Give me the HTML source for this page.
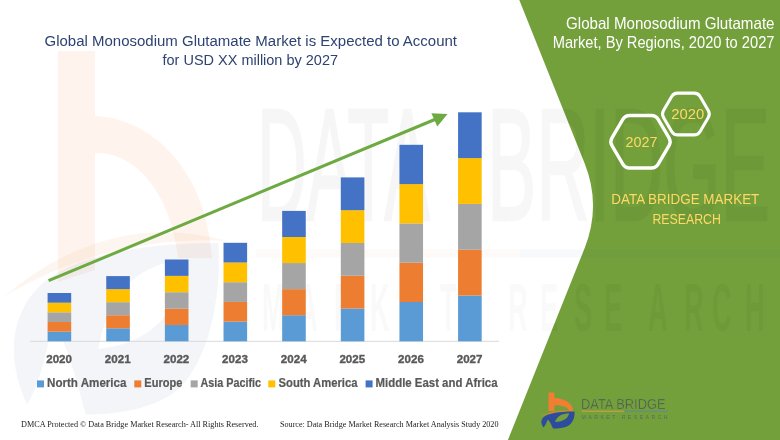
<!DOCTYPE html>
<html><head><meta charset="utf-8">
<style>
html,body{margin:0;padding:0;background:#fff;}
body{width:780px;height:440px;overflow:hidden;position:relative;}
svg{position:absolute;left:0;top:0;display:block;will-change:transform;}
text{font-family:"Liberation Sans",sans-serif;}
.serif{font-family:"Liberation Serif",serif;}
</style></head><body>
<svg width="780" height="440" viewBox="0 0 780 440">
<defs>
<g id="lb">
<path d="M0,0 L6,0 L6,5.5 A18.5,13 0 0 1 24.5,18.5 L20.5,18.5 A14.5,6 0 0 0 6,12.5 L6,18.5 L0,18.5 Z" fill="#F07F32"/>
<path d="M-8.7,24.3 Q8,15.6 27.6,18.8 Q8,18.2 -8.7,24.3 Z" fill="#F07F32"/>
</g>
<g id="ld">
<path d="M-5,35 C-8.5,30.5 -8,25.5 -1.5,22.5 C4.5,20 14.5,19 26,19 C26.5,24.5 24.5,30.5 19.5,33.5 C15.5,35.5 9.5,36 4.5,36 C3,32.5 1.5,29 -0.7,27 C-2,29.5 -2.5,32.5 -5,35 Z M6.5,29.5 C8.5,23.5 13.5,21 20.5,20.7 C20,25.5 15.5,29 6.5,29.5 Z" fill="#2E4C9C" fill-rule="evenodd"/>
</g>
<clipPath id="cw"><path d="M0,0 L519.3,0 L584.5,163 Q601.6,205.75 584.5,248.5 L507.9,440 L0,440 Z"/></clipPath>
<clipPath id="cg"><path d="M519.3,0 L584.5,163 Q601.6,205.75 584.5,248.5 L507.9,440 L780,440 L780,0 Z"/></clipPath>
</defs>
<rect x="0" y="0" width="780" height="440" fill="#ffffff"/>
<!-- green background -->
<path d="M519.3,0 L584.5,163 Q601.6,205.75 584.5,248.5 L507.9,440 L780,440 L780,0 Z" fill="#73A03B"/>
<!-- watermarks -->
<path d="M58,51 L95,51 L95,116 C150,118 206,168 212,258 L178,258 C172,200 140,152 95,153 L95,270 L58,282 Z" fill="#F07F32" opacity="0.085"/>
<g opacity="0.07"><path transform="translate(58,51) scale(6.17,10.1)" d="M-8.7,24.3 Q8,15.6 27.6,18.8 Q8,18.2 -8.7,24.3 Z" fill="#F07F32"/></g>
<g opacity="0.05">
<use href="#ld" transform="translate(58,51) scale(6.17,10.1)"/>
</g>
<defs><g id="wm1">
<text x="257" y="220" textLength="173" lengthAdjust="spacingAndGlyphs">DATA</text>
<text x="487" y="220" textLength="283" lengthAdjust="spacingAndGlyphs">BRIDGE</text>
</g><g id="wm2" transform="scale(0.4,1)"><text x="655.0" y="331">M</text><text x="745.0" y="331">A</text><text x="835.0" y="331">R</text><text x="925.0" y="331">K</text><text x="1015.0" y="331">E</text><text x="1100.0" y="331">T</text><text x="1270.0" y="331">R</text><text x="1350.0" y="331">E</text><text x="1435.0" y="331">S</text><text x="1510.0" y="331">E</text><text x="1620.0" y="331">A</text><text x="1710.0" y="331">R</text><text x="1780.0" y="331">C</text><text x="1862.5" y="331">H</text></g></defs>
<g clip-path="url(#cw)"><g fill="#000" stroke="#000" stroke-width="2.5" opacity="0.03" font-size="160"><use href="#wm1"/></g>
<g fill="#000" opacity="0.02" font-size="68" font-weight="bold"><use href="#wm2"/></g></g>
<g clip-path="url(#cg)"><g fill="#000" stroke="#000" stroke-width="2.5" opacity="0.045" font-size="160"><use href="#wm1"/></g>
<g fill="#000" opacity="0.035" font-size="68" font-weight="bold"><use href="#wm2"/></g></g>

<rect x="256" y="249.5" width="264" height="8" fill="#F07F32" opacity="0.04"/>
<rect x="520" y="249.5" width="260" height="8" fill="#2E4C9C" opacity="0.035"/>

<!-- title -->
<text x="44.5" y="45.6" font-size="15.5" fill="#2E4372" textLength="412.5" lengthAdjust="spacingAndGlyphs">Global Monosodium Glutamate Market is Expected to Account</text>
<text x="162.5" y="64.7" font-size="15.5" fill="#2E4372" textLength="175.5" lengthAdjust="spacingAndGlyphs">for USD XX million by 2027</text>
<!-- axis -->
<rect x="30" y="340.8" width="469" height="1" fill="#D9D9D9"/>
<rect x="47.60" y="331.64" width="23.6" height="9.68" fill="#5B9BD5"/>
<rect x="47.60" y="321.98" width="23.6" height="9.68" fill="#ED7D31"/>
<rect x="47.60" y="312.32" width="23.6" height="9.68" fill="#A5A5A5"/>
<rect x="47.60" y="302.66" width="23.6" height="9.68" fill="#FFC000"/>
<rect x="47.60" y="293.00" width="23.6" height="9.68" fill="#4472C4"/>
<rect x="106.24" y="328.26" width="23.6" height="13.06" fill="#5B9BD5"/>
<rect x="106.24" y="315.22" width="23.6" height="13.06" fill="#ED7D31"/>
<rect x="106.24" y="302.18" width="23.6" height="13.06" fill="#A5A5A5"/>
<rect x="106.24" y="289.14" width="23.6" height="13.06" fill="#FFC000"/>
<rect x="106.24" y="276.10" width="23.6" height="13.06" fill="#4472C4"/>
<rect x="164.88" y="324.94" width="23.6" height="16.38" fill="#5B9BD5"/>
<rect x="164.88" y="308.58" width="23.6" height="16.38" fill="#ED7D31"/>
<rect x="164.88" y="292.22" width="23.6" height="16.38" fill="#A5A5A5"/>
<rect x="164.88" y="275.86" width="23.6" height="16.38" fill="#FFC000"/>
<rect x="164.88" y="259.50" width="23.6" height="16.38" fill="#4472C4"/>
<rect x="223.52" y="321.60" width="23.6" height="19.72" fill="#5B9BD5"/>
<rect x="223.52" y="301.90" width="23.6" height="19.72" fill="#ED7D31"/>
<rect x="223.52" y="282.20" width="23.6" height="19.72" fill="#A5A5A5"/>
<rect x="223.52" y="262.50" width="23.6" height="19.72" fill="#FFC000"/>
<rect x="223.52" y="242.80" width="23.6" height="19.72" fill="#4472C4"/>
<rect x="282.16" y="315.22" width="23.6" height="26.10" fill="#5B9BD5"/>
<rect x="282.16" y="289.14" width="23.6" height="26.10" fill="#ED7D31"/>
<rect x="282.16" y="263.06" width="23.6" height="26.10" fill="#A5A5A5"/>
<rect x="282.16" y="236.98" width="23.6" height="26.10" fill="#FFC000"/>
<rect x="282.16" y="210.90" width="23.6" height="26.10" fill="#4472C4"/>
<rect x="340.80" y="308.52" width="23.6" height="32.80" fill="#5B9BD5"/>
<rect x="340.80" y="275.74" width="23.6" height="32.80" fill="#ED7D31"/>
<rect x="340.80" y="242.96" width="23.6" height="32.80" fill="#A5A5A5"/>
<rect x="340.80" y="210.18" width="23.6" height="32.80" fill="#FFC000"/>
<rect x="340.80" y="177.40" width="23.6" height="32.80" fill="#4472C4"/>
<rect x="399.44" y="302.00" width="23.6" height="39.32" fill="#5B9BD5"/>
<rect x="399.44" y="262.70" width="23.6" height="39.32" fill="#ED7D31"/>
<rect x="399.44" y="223.40" width="23.6" height="39.32" fill="#A5A5A5"/>
<rect x="399.44" y="184.10" width="23.6" height="39.32" fill="#FFC000"/>
<rect x="399.44" y="144.80" width="23.6" height="39.32" fill="#4472C4"/>
<rect x="458.08" y="295.50" width="23.6" height="45.82" fill="#5B9BD5"/>
<rect x="458.08" y="249.70" width="23.6" height="45.82" fill="#ED7D31"/>
<rect x="458.08" y="203.90" width="23.6" height="45.82" fill="#A5A5A5"/>
<rect x="458.08" y="158.10" width="23.6" height="45.82" fill="#FFC000"/>
<rect x="458.08" y="112.30" width="23.6" height="45.82" fill="#4472C4"/>
<!-- arrow -->
<line x1="48.6" y1="280.7" x2="436" y2="119" stroke="#6DAA42" stroke-width="3"/>
<path d="M447.5,114.1 L431.4,113.2 L437.3,126.4 Z" fill="#6DAA42"/>
<!-- category labels -->
<g font-size="11.6" font-weight="bold" fill="#595959" stroke="#595959" stroke-width="0.35" text-anchor="middle">
<text x="59.1" y="362.7">2020</text><text x="117.7" y="362.7">2021</text><text x="176.4" y="362.7">2022</text><text x="235" y="362.7">2023</text>
<text x="293.7" y="362.7">2024</text><text x="352.3" y="362.7">2025</text><text x="411" y="362.7">2026</text><text x="469.6" y="362.7">2027</text>
</g>
<!-- legend -->
<rect x="37" y="380.4" width="7" height="7" fill="#5B9BD5"/>
<rect x="134.3" y="380.4" width="7" height="7" fill="#ED7D31"/>
<rect x="190.7" y="380.4" width="7" height="7" fill="#A5A5A5"/>
<rect x="268.3" y="380.4" width="7" height="7" fill="#FFC000"/>
<rect x="365.6" y="380.4" width="7" height="7" fill="#4472C4"/>
<g font-size="12" font-weight="bold" fill="#595959" stroke="#595959" stroke-width="0.2">
<text x="47" y="387.3" textLength="79.5" lengthAdjust="spacingAndGlyphs">North America</text>
<text x="144.3" y="387.3" textLength="38" lengthAdjust="spacingAndGlyphs">Europe</text>
<text x="200.5" y="387.3" textLength="60.5" lengthAdjust="spacingAndGlyphs">Asia Pacific</text>
<text x="278.5" y="387.3" textLength="79" lengthAdjust="spacingAndGlyphs">South America</text>
<text x="375.5" y="387.3" textLength="122" lengthAdjust="spacingAndGlyphs">Middle East and Africa</text>
</g>
<!-- footer -->
<text class="serif" x="21" y="427.3" font-size="8.6" fill="#222" textLength="237.5" lengthAdjust="spacingAndGlyphs">DMCA Protected © Data Bridge  Market Research- All Rights Reserved.</text>
<text class="serif" x="280" y="427.3" font-size="8.6" fill="#222" textLength="218.5" lengthAdjust="spacingAndGlyphs">Source: Data Bridge Market Research Market Analysis Study 2020</text>
<!-- right title -->
<g fill="#ffffff" font-size="16.5">
<text x="566" y="28.7" textLength="208.5" lengthAdjust="spacingAndGlyphs">Global Monosodium Glutamate</text>
<text x="552.7" y="48.1" textLength="221.8" lengthAdjust="spacingAndGlyphs">Market, By Regions, 2020 to 2027</text>
</g>
<!-- hexagons -->
<path d="M611.97,137.87 L622.83,119.33 Q625.10,115.45 629.60,115.45 L651.40,115.45 Q655.90,115.45 658.17,119.33 L669.03,137.87 Q671.30,141.75 669.03,145.63 L658.17,164.17 Q655.90,168.05 651.40,168.05 L629.60,168.05 Q625.10,168.05 622.83,164.17 L611.97,145.63 Q609.70,141.75 611.97,137.87 Z" fill="none" stroke="#ffffff" stroke-width="3.4" stroke-linejoin="round"/>
<path d="M663.52,110.55 L671.68,96.55 Q673.70,93.10 677.70,93.10 L694.10,93.10 Q698.10,93.10 700.12,96.55 L708.28,110.55 Q710.30,114.00 708.28,117.45 L700.12,131.45 Q698.10,134.90 694.10,134.90 L677.70,134.90 Q673.70,134.90 671.68,131.45 L663.52,117.45 Q661.50,114.00 663.52,110.55 Z" fill="none" stroke="#ffffff" stroke-width="3.1" stroke-linejoin="round"/>
<g fill="#FFD966" font-size="15.5">
<text x="625.5" y="147.4" textLength="32" lengthAdjust="spacingAndGlyphs">2027</text>
<text x="671.3" y="118.9" textLength="33" lengthAdjust="spacingAndGlyphs">2020</text>
</g>
<g fill="#FFD966" font-size="14">
<text x="611.3" y="203.8" textLength="148" lengthAdjust="spacingAndGlyphs">DATA BRIDGE MARKET</text>
<text x="652.4" y="223.5" textLength="68.5" lengthAdjust="spacingAndGlyphs">RESEARCH</text>
</g>
<!-- logo -->
<g>
<use href="#lb" transform="translate(548.5,392.5)"/>
<use href="#ld" transform="translate(548.5,392.5)"/>
<text x="581" y="408.9" font-size="15" fill="#4A555C" stroke="#73A03B" stroke-width="0.45" textLength="84.5" lengthAdjust="spacingAndGlyphs">DATA BRIDGE</text>
<rect x="581.6" y="410.7" width="42.2" height="1" fill="#D9A040"/>
<rect x="624.4" y="410.7" width="43.4" height="1" fill="#5F8A9A"/>
<text x="581.6" y="419" font-size="5.2" fill="#5A6B62" textLength="86" lengthAdjust="spacing">MARKET RESEARCH</text>
</g>
</svg>
</body></html>
